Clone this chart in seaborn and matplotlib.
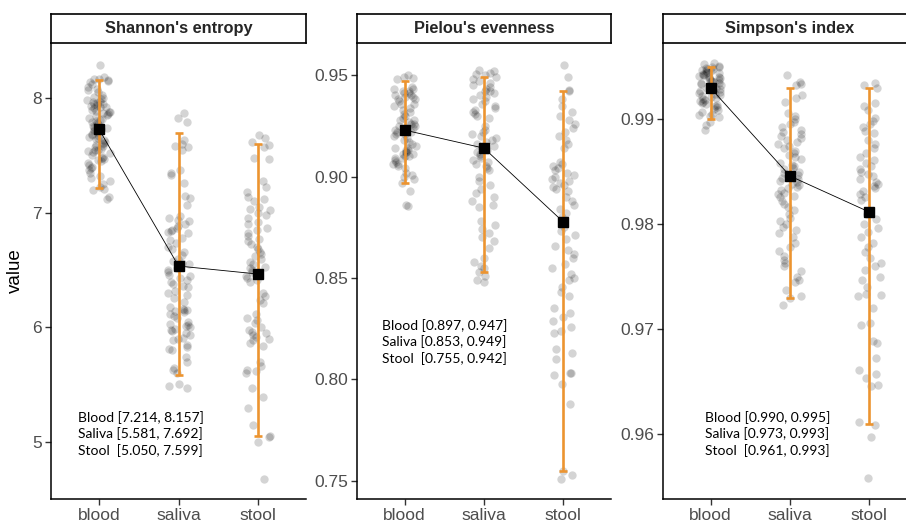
import numpy as np
import pandas as pd
import seaborn as sns
import matplotlib.pyplot as plt

sites = ["blood", "saliva", "stool"]
metrics = ["Shannon's entropy", "Pielou's evenness", "Simpson's index"]

# values
shannon_blood = [8.29, 8.18, 8.17, 8.17, 8.16, 8.15, 8.14, 8.12, 8.10, 8.08, 8.07, 8.05,
                 8.03, 8.01, 8.00, 7.99, 7.98, 7.97, 7.97, 7.96, 7.95, 7.95, 7.94, 7.93,
                 7.92, 7.92, 7.91, 7.90, 7.89, 7.88, 7.88, 7.87, 7.86, 7.85, 7.84, 7.83,
                 7.82, 7.81, 7.80, 7.79, 7.78, 7.77, 7.76, 7.75, 7.75, 7.74, 7.73, 7.72,
                 7.71, 7.70, 7.69, 7.68, 7.67, 7.66, 7.65, 7.64, 7.63, 7.62, 7.61, 7.60,
                 7.59, 7.58, 7.57, 7.56, 7.55, 7.55, 7.54, 7.53, 7.52, 7.50, 7.49, 7.48,
                 7.47, 7.46, 7.45, 7.43, 7.42, 7.40, 7.39, 7.37, 7.35, 7.32, 7.30, 7.28,
                 7.25, 7.22, 7.21, 7.20, 7.14, 7.12]
shannon_saliva = [7.87, 7.83, 7.79, 7.63, 7.60, 7.57, 7.55, 7.58, 7.37, 7.35, 7.33, 7.26,
                  7.15, 7.13, 7.07, 6.97, 6.95, 6.94, 6.93, 6.90, 6.88, 6.87, 6.85, 6.84,
                  6.83, 6.82, 6.78, 6.76, 6.74, 6.70, 6.68, 6.66, 6.63, 6.60, 6.58, 6.56,
                  6.55, 6.52, 6.50, 6.48, 6.46, 6.45, 6.43, 6.41, 6.40, 6.38, 6.36, 6.35,
                  6.32, 6.30, 6.28, 6.26, 6.22, 6.18, 6.16, 6.15, 6.15, 6.14, 6.13, 6.12,
                  6.10, 6.08, 6.05, 6.03, 6.02, 6.01, 6.00, 5.99, 5.98, 5.97, 5.95, 5.93,
                  5.91, 5.90, 5.89, 5.85, 5.83, 5.81, 5.80, 5.74, 5.70, 5.65, 5.63, 5.60,
                  5.51, 5.49, 5.47]
shannon_stool = [7.68, 7.65, 7.62, 7.59, 7.57, 7.48, 7.47, 7.28, 7.22, 7.18, 7.14, 7.12,
                 7.10, 7.05, 7.03, 7.02, 7.00, 6.98, 6.95, 6.92, 6.90, 6.87, 6.85, 6.82,
                 6.80, 6.77, 6.75, 6.73, 6.70, 6.68, 6.66, 6.64, 6.62, 6.60, 6.57, 6.55,
                 6.53, 6.52, 6.50, 6.48, 6.47, 6.45, 6.43, 6.41, 6.40, 6.30, 6.27, 6.24,
                 6.21, 6.12, 6.08, 6.06, 6.04, 6.00, 5.98, 5.96, 5.95, 5.93, 5.92, 5.90,
                 5.89, 5.86, 5.84, 5.70, 5.66, 5.63, 5.62, 5.60, 5.47, 5.39, 5.30, 5.15,
                 5.05, 5.04, 5.00, 4.68]

pielou_blood = [0.950, 0.949, 0.9485, 0.948, 0.944, 0.943, 0.943, 0.942, 0.942, 0.941,
                0.941, 0.940, 0.940, 0.939, 0.939, 0.938, 0.938, 0.937, 0.936, 0.936,
                0.935, 0.934, 0.933, 0.932, 0.931, 0.930, 0.929, 0.928, 0.928, 0.927,
                0.926, 0.926, 0.925, 0.925, 0.924, 0.924, 0.923, 0.923, 0.922, 0.922,
                0.921, 0.921, 0.920, 0.919, 0.918, 0.917, 0.916, 0.915, 0.914, 0.914,
                0.913, 0.913, 0.912, 0.912, 0.911, 0.911, 0.910, 0.910, 0.909, 0.909,
                0.908, 0.907, 0.906, 0.906, 0.905, 0.904, 0.902, 0.901, 0.900, 0.899,
                0.897, 0.893, 0.886, 0.8855]
pielou_saliva = [0.9525, 0.952, 0.951, 0.9505, 0.950, 0.949, 0.948, 0.947, 0.946, 0.945,
                 0.944, 0.943, 0.942, 0.942, 0.941, 0.940, 0.939, 0.938, 0.937, 0.936,
                 0.935, 0.934, 0.933, 0.932, 0.931, 0.930, 0.929, 0.925, 0.923, 0.922,
                 0.921, 0.920, 0.919, 0.918, 0.917, 0.916, 0.915, 0.914, 0.913, 0.912,
                 0.911, 0.910, 0.909, 0.908, 0.907, 0.906, 0.905, 0.904, 0.903, 0.900,
                 0.898, 0.896, 0.894, 0.892, 0.890, 0.888, 0.886, 0.885, 0.878, 0.876,
                 0.874, 0.872, 0.870, 0.868, 0.865, 0.860, 0.858, 0.856, 0.855, 0.853,
                 0.851, 0.849, 0.848]
pielou_stool = [0.955, 0.949, 0.9425, 0.942, 0.938, 0.935, 0.932, 0.930, 0.928, 0.926,
                0.924, 0.922, 0.920, 0.918, 0.916, 0.914, 0.907, 0.906, 0.905, 0.904,
                0.903, 0.902, 0.901, 0.900, 0.899, 0.898, 0.897, 0.896, 0.895, 0.894,
                0.893, 0.890, 0.888, 0.886, 0.884, 0.882, 0.880, 0.875, 0.873, 0.871,
                0.869, 0.866, 0.864, 0.862, 0.860, 0.857, 0.855, 0.852, 0.850, 0.849,
                0.8455, 0.843, 0.841, 0.835, 0.833, 0.831, 0.829, 0.826, 0.824, 0.823,
                0.815, 0.813, 0.810, 0.803, 0.803, 0.802, 0.798, 0.788, 0.755, 0.753,
                0.751]

simpson_blood = [0.9953, 0.9952, 0.9951, 0.9950, 0.9950, 0.9949, 0.9948, 0.9948, 0.9947,
                 0.9946, 0.9946, 0.9945, 0.9944, 0.9944, 0.9943, 0.9942, 0.9942, 0.9941,
                 0.9940, 0.9940, 0.9939, 0.9938, 0.9938, 0.9937, 0.9936, 0.9936, 0.9935,
                 0.9934, 0.9934, 0.9933, 0.9932, 0.9932, 0.9931, 0.9930, 0.9930, 0.9929,
                 0.9928, 0.9927, 0.9926, 0.9925, 0.9924, 0.9923, 0.9922, 0.9921, 0.9920,
                 0.9919, 0.9918, 0.9917, 0.9916, 0.9915, 0.9914, 0.9913, 0.9912, 0.9911,
                 0.9910, 0.9909, 0.9907, 0.9905, 0.9904, 0.9903, 0.9902, 0.9897, 0.9894,
                 0.9890]
simpson_saliva = [0.9942, 0.9935, 0.9933, 0.9932, 0.9923, 0.9920, 0.9916, 0.9906, 0.9903,
                  0.9900, 0.9897, 0.9895, 0.9892, 0.9890, 0.9888, 0.9886, 0.9884, 0.9882,
                  0.9880, 0.9878, 0.9876, 0.9874, 0.9872, 0.9870, 0.9868, 0.9866, 0.9864,
                  0.9862, 0.9858, 0.9856, 0.9855, 0.9853, 0.9852, 0.9850, 0.9849, 0.9847,
                  0.9846, 0.9844, 0.9843, 0.9841, 0.9840, 0.9838, 0.9837, 0.9835, 0.9834,
                  0.9832, 0.9830, 0.9829, 0.9827, 0.9826, 0.9822, 0.9819, 0.9816, 0.9813,
                  0.9810, 0.9806, 0.9803, 0.9800, 0.9797, 0.9794, 0.9791, 0.9788, 0.9782,
                  0.9778, 0.9774, 0.9770, 0.9766, 0.9763, 0.9760, 0.9755, 0.9750, 0.9747,
                  0.9745, 0.9737, 0.9731, 0.9730, 0.9723]
simpson_stool = [0.9934, 0.9932, 0.9930, 0.9915, 0.9912, 0.9909, 0.9901, 0.9898, 0.9895,
                 0.9892, 0.9889, 0.9887, 0.9880, 0.9876, 0.9872, 0.9868, 0.9864, 0.9861,
                 0.9858, 0.9855, 0.9852, 0.9850, 0.9848, 0.9846, 0.9843, 0.9840, 0.9838,
                 0.9836, 0.9834, 0.9831, 0.9829, 0.9826, 0.9823, 0.9810, 0.9805, 0.9800,
                 0.9796, 0.9792, 0.9788, 0.9782, 0.9778, 0.9773, 0.9768, 0.9763, 0.9760,
                 0.9756, 0.9750, 0.9747, 0.9740, 0.9733, 0.9732, 0.9731, 0.9720, 0.9706,
                 0.9704, 0.9689, 0.9687, 0.9672, 0.9661, 0.9657, 0.9653, 0.9647, 0.9646,
                 0.9611, 0.9609, 0.9597, 0.9558]

# means and 95% intervals per site
shannon_mean = [7.73, 6.535, 6.465]
shannon_lo = [7.214, 5.581, 5.050]
shannon_hi = [8.157, 7.692, 7.599]
pielou_mean = [0.9229, 0.914, 0.8776]
pielou_lo = [0.897, 0.853, 0.755]
pielou_hi = [0.947, 0.949, 0.942]
simpson_mean = [0.99295, 0.98457, 0.98114]
simpson_lo = [0.990, 0.973, 0.961]
simpson_hi = [0.995, 0.993, 0.993]

points = {
    metrics[0]: [shannon_blood, shannon_saliva, shannon_stool],
    metrics[1]: [pielou_blood, pielou_saliva, pielou_stool],
    metrics[2]: [simpson_blood, simpson_saliva, simpson_stool],
}
summary = {
    metrics[0]: (shannon_mean, shannon_lo, shannon_hi),
    metrics[1]: (pielou_mean, pielou_lo, pielou_hi),
    metrics[2]: (simpson_mean, simpson_lo, simpson_hi),
}

rows = []
for m in metrics:
    for s, vals in zip(sites, points[m]):
        for v in vals:
            rows.append({"metric": m, "site": s, "value": v})
df = pd.DataFrame(rows)

sns.set_style("ticks")
plt.rcParams["font.family"] = ["Liberation Sans", "DejaVu Sans"]

orange = "#EC9430"
ylims = [(4.503, 8.48), (0.7411, 0.9658), (0.95381, 0.99724)]
yticks = [[5, 6, 7, 8], [0.75, 0.80, 0.85, 0.90, 0.95], [0.96, 0.97, 0.98, 0.99]]
yfmt = ["{:.0f}", "{:.2f}", "{:.2f}"]
lefts = [0.0563, 0.3940, 0.7318]
widths = [0.2815, 0.2804, 0.2804]
text_pos = [(-0.26, 5.07), (-0.28, 0.8185), (-0.075, 0.960)]

np.random.seed(3)
fig = plt.figure(figsize=(9.06, 5.21), dpi=100)

for i, m in enumerate(metrics):
    ax = fig.add_axes([lefts[i], 0.0422, widths[i], 0.8752])
    sub = df[df["metric"] == m]
    sns.stripplot(data=sub, x="site", y="value", order=sites, jitter=0.15,
                  color="black", alpha=0.17, size=6, linewidth=0, ax=ax, zorder=1)

    mean, lo, hi = summary[m]
    mean = np.array(mean)
    xs = np.arange(len(sites))
    ax.errorbar(xs, mean, yerr=[mean - np.array(lo), np.array(hi) - mean], fmt="none",
                ecolor=orange, elinewidth=1.9, capsize=3.2, capthick=1.9, zorder=3)
    ax.plot(xs, mean, color="black", lw=0.6, zorder=4)
    ax.plot(xs, mean, "s", color="black", ms=6.5, zorder=5)

    label = "\n".join(f"{n}{' ' if n != 'Stool' else '  '}[{a:.3f}, {b:.3f}]"
                      for n, a, b in zip(["Blood", "Saliva", "Stool"], lo, hi))
    ax.text(text_pos[i][0], text_pos[i][1], label, ha="left", va="center",
            fontsize=10, family=["Lato", "DejaVu Sans"], linespacing=1.35, color="black")

    ax.set_xlim(-0.6, 2.6)
    ax.set_ylim(*ylims[i])
    ax.set_yticks(yticks[i])
    ax.set_yticklabels([yfmt[i].format(t) for t in yticks[i]])
    ax.set_xlabel("")
    ax.set_ylabel("value" if i == 0 else "", fontsize=13.5, color="black", labelpad=6)
    sns.despine(ax=ax)
    for sp in ["left", "bottom"]:
        ax.spines[sp].set_linewidth(1.1)
        ax.spines[sp].set_color("black")
    ax.tick_params(axis="both", labelsize=12.5, labelcolor="#4D4D4D", color="#333333",
                   length=4, width=1, pad=2.5)

    strip = fig.add_axes([lefts[i], 0.9175, widths[i], 0.0557])
    strip.set_xticks([])
    strip.set_yticks([])
    for sp in strip.spines.values():
        sp.set_linewidth(1.2)
        sp.set_color("black")
        sp.set_visible(True)
    strip.text(0.5, 0.5, m, ha="center", va="center", fontsize=11.8, fontweight="bold",
               transform=strip.transAxes)

fig.savefig("out.png", dpi=100)
